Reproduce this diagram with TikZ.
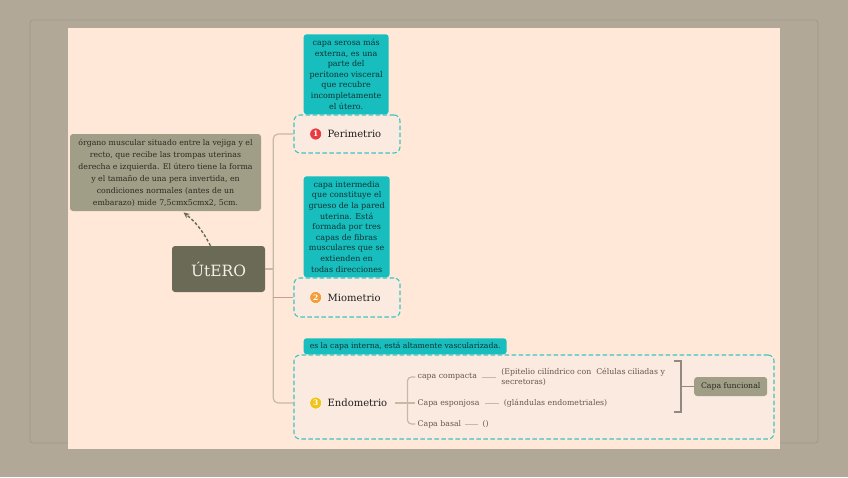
\documentclass[tikz,border=0pt]{standalone}
\usepackage{fontspec}
\setmainfont{DejaVu Serif}
\usepackage{xcolor}
\usetikzlibrary{arrows.meta,positioning}

\definecolor{paper}{HTML}{B2A898}
\definecolor{frameline}{HTML}{A3998A}
\definecolor{canvas}{HTML}{FFE8D7}
\definecolor{boxfill}{HTML}{FBEAE0}
\definecolor{dashteal}{HTML}{3CC4C2}
\definecolor{callfill}{HTML}{17BEBD}
\definecolor{calltext}{HTML}{0F3232}
\definecolor{notefill}{HTML}{A09E86}
\definecolor{notetext}{HTML}{2B2B22}
\definecolor{rootfill}{HTML}{6B6A57}
\definecolor{rootext}{HTML}{F4F0E6}
\definecolor{linecol}{HTML}{C9B8A5}
\definecolor{miocol}{HTML}{C79F8B}
\definecolor{parttext}{HTML}{63574A}
\definecolor{redbadge}{HTML}{E93B3F}
\definecolor{orangebadge}{HTML}{F49B3A}
\definecolor{yellowbadge}{HTML}{F1C31A}

\begin{document}
\begin{tikzpicture}[x=1pt,y=-1pt,
  root/.style={fill=rootfill, text=rootext, rounded corners=3pt, minimum width=93pt, minimum height=46pt,
    font=\fontsize{15.5}{18}\selectfont},
  notebox/.style={fill=notefill, text=notetext, rounded corners=3pt, minimum width=191pt, minimum height=77pt,
    align=center, font=\fontsize{7.8}{12}\selectfont},
  layerbox/.style={draw=dashteal, fill=boxfill, line width=1.1pt, dash pattern=on 4.5pt off 2.5pt, rounded corners=6pt},
  callout/.style={fill=callfill, text=calltext, rounded corners=3pt, align=center, inner sep=2pt,
    font=\fontsize{8}{10.6}\selectfont},
  badge/.style={circle, draw=white, line width=0.5pt, fill=#1, text=white, inner sep=0pt, minimum size=12pt,
    font=\fontsize{7.5}{8}\selectfont\bfseries},
  layer/.style={inner sep=0pt, text=black!88, font=\fontsize{10}{12}\selectfont},
  part/.style={inner sep=2pt, text=parttext, align=left, font=\fontsize{7.8}{10.8}\selectfont},
  tag/.style={fill=notefill, text=notetext, rounded corners=3pt, minimum width=73pt, minimum height=19pt,
    font=\fontsize{7.8}{9}\selectfont},
  branch/.style={draw=linecol, line width=1.2pt},
  twig/.style={draw=linecol, line width=0.9pt},
  noteline/.style={draw=rootfill, line width=1.4pt, dash pattern=on 3pt off 2pt,
    -{Stealth[length=6pt,width=5.5pt]}}]

  \useasboundingbox (0,0) rectangle (848,477);
  \fill[paper] (0,0) rectangle (848,477);
  \draw[frameline, line width=0.8pt, rounded corners=3pt] (30,20) rectangle (818,443);
  \fill[canvas] (68,28) rectangle (780,449);

  \node[root] (utero) at (218.5,269) {ÚtERO};
  \node[notebox] (note) at (165.5,172.5) {órgano muscular situado entre la vejiga y el\\
    recto, que recibe las trompas uterinas\\ derecha e izquierda. El útero tiene la forma\\
    y el tamaño de una pera invertida, en\\ condiciones normales (antes de un\\ embarazo) mide 7,5cmx5cmx2, 5cm.};
  \draw[noteline, shorten >=2pt] ([xshift=-8pt]utero.north) to[bend right=12] ([xshift=16.5pt]note.south);

  \node[layerbox, minimum width=106pt, minimum height=38pt] (peri) at (347,134) {};
  \node[layerbox, minimum width=106pt, minimum height=39pt] (mio) at (347,297.5) {};
  \node[layerbox, minimum width=480pt, minimum height=84pt] (endo) at (534,397) {};

  \node[callout, above right=0pt and 10pt of peri.north west, minimum width=85pt, minimum height=80pt] (pericall)
    {capa serosa más\\ externa, es una\\ parte del\\ peritoneo visceral\\ que recubre\\ incompletamente\\ el útero.};
  \node[callout, above right=0pt and 10pt of mio.north west, minimum width=86pt, minimum height=101pt] (miocall)
    {capa intermedia\\ que constituye el\\ grueso de la pared\\ uterina. Está\\ formada por tres\\ capas de fibras\\
    musculares que se\\ extienden en\\ todas direcciones};
  \node[callout, above right=0pt and 10pt of endo.north west, minimum width=203pt, minimum height=16pt,
    font=\fontsize{7.7}{9}\selectfont] (endocall) {es la capa interna, está altamente vascularizada.};

  \node[badge=redbadge, right=16pt of peri.west] (b1) {1};
  \node[layer, right=5.5pt of b1] (perilbl) {Perimetrio};
  \node[badge=orangebadge, right=16pt of mio.west] (b2) {2};
  \node[layer, right=5.5pt of b2] (miolbl) {Miometrio};
  \node[badge=yellowbadge, right=16pt of endo.west, yshift=-6pt] (b3) {3};
  \node[layer, right=5.5pt of b3] (endolbl) {Endometrio};

  \coordinate[right=8pt of utero.east] (hub);
  \draw[branch] (utero.east) -- (hub);
  \draw[branch, rounded corners=5pt] (peri.west) -| (hub) |- (endo.west |- b3);
  \draw[branch, draw=miocol] (hub |- mio.west) -- (mio.west);

  \coordinate[right=20pt of endolbl.east] (subhub);
  \node[part, right=8pt of subhub] (esponjosa) {Capa esponjosa};
  \node[part, right=8pt of subhub, yshift=26pt] (compacta) {capa compacta};
  \node[part, right=8pt of subhub, yshift=-21pt] (basal) {Capa basal};
  \draw[branch, shorten <=8pt] (endolbl.east) -- (subhub);
  \draw[branch, rounded corners=4pt] (compacta.west) -| (subhub) |- (basal.west);
  \draw[branch] (subhub) -- (esponjosa.west);

  \node[part, right=20pt of compacta] (epitelio) {(Epitelio cilíndrico con\ \ Células ciliadas y\\ secretoras)};
  \node[part, right=20pt of esponjosa] (glandulas) {(glándulas endometriales)};
  \node[part, right=17pt of basal] (vacio) {()};
  \draw[twig, shorten <=3pt, shorten >=3pt] (compacta.east) -- (compacta.east -| epitelio.west);
  \draw[twig, shorten <=3pt, shorten >=3pt] (esponjosa.east) -- (glandulas.west);
  \draw[twig, shorten <=2pt, shorten >=2pt] (basal.east) -- (vacio.west);

  \coordinate (brtop) at (674,361);
  \coordinate (brmid) at (681,386.5);
  \coordinate (brbot) at (674,412);
  \draw[branch, draw=parttext!70] (brtop) -| (brmid) |- (brbot);
  \node[tag, right=13pt of brmid] (funcional) {Capa funcional};
  \draw[branch, draw=parttext!70] (brmid) -- (funcional.west);
\end{tikzpicture}
\end{document}
